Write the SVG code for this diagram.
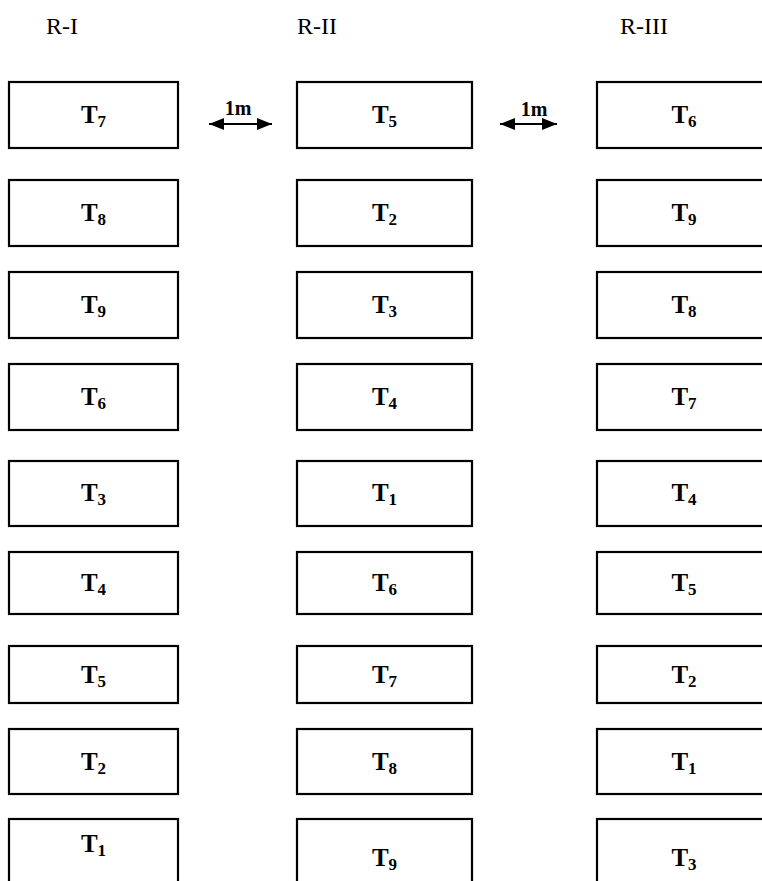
<svg xmlns="http://www.w3.org/2000/svg" width="762" height="881" viewBox="0 0 762 881">
<style>
  .box { fill: #fff; stroke: #000; stroke-width: 2.2; }
  .lbl { font-family: "Liberation Serif", "Times New Roman", serif; font-weight: bold; font-size: 25px; fill: #000; text-anchor: middle; }
  .sub { font-size: 17px; }
  .hdr { font-family: "Liberation Serif", "Times New Roman", serif; font-size: 24px; fill: #000; }
  .dist { font-family: "Liberation Serif", "Times New Roman", serif; font-weight: bold; font-size: 20px; fill: #000; text-anchor: middle; }
  .conn { stroke: #000; stroke-width: 2.2; fill: none; }
</style>
<defs>
  <marker id="ah" markerUnits="userSpaceOnUse" markerWidth="16" markerHeight="14" refX="15" refY="6" orient="auto-start-reverse">
    <path d="M0,0 L15,6 L0,12 z" fill="#000"/>
  </marker>
</defs>
<rect width="762" height="881" fill="#fff"/>

<g id="headers">
  <text class="hdr" x="46" y="34">R-I</text>
  <text class="hdr" x="297" y="34">R-II</text>
  <text class="hdr" x="620" y="34">R-III</text>
</g>

<!-- Column R-I -->
<g id="r1-1"><rect class="box" x="9" y="82" width="169" height="66"/><text class="lbl" x="93.5" y="123">T<tspan class="sub" dy="4">7</tspan></text></g>
<g id="r1-2"><rect class="box" x="9" y="180" width="169" height="66"/><text class="lbl" x="93.5" y="221">T<tspan class="sub" dy="4">8</tspan></text></g>
<g id="r1-3"><rect class="box" x="9" y="272" width="169" height="66"/><text class="lbl" x="93.5" y="313">T<tspan class="sub" dy="4">9</tspan></text></g>
<g id="r1-4"><rect class="box" x="9" y="364" width="169" height="66"/><text class="lbl" x="93.5" y="405">T<tspan class="sub" dy="4">6</tspan></text></g>
<g id="r1-5"><rect class="box" x="9" y="461" width="169" height="65"/><text class="lbl" x="93.5" y="501">T<tspan class="sub" dy="4">3</tspan></text></g>
<g id="r1-6"><rect class="box" x="9" y="552" width="169" height="62"/><text class="lbl" x="93.5" y="591">T<tspan class="sub" dy="4">4</tspan></text></g>
<g id="r1-7"><rect class="box" x="9" y="646" width="169" height="57"/><text class="lbl" x="93.5" y="683">T<tspan class="sub" dy="4">5</tspan></text></g>
<g id="r1-8"><rect class="box" x="9" y="729" width="169" height="65"/><text class="lbl" x="93.5" y="770">T<tspan class="sub" dy="4">2</tspan></text></g>
<g id="r1-9"><rect class="box" x="9" y="819" width="169" height="80"/><text class="lbl" x="93.5" y="852">T<tspan class="sub" dy="4">1</tspan></text></g>

<!-- Column R-II -->
<g id="r2-1"><rect class="box" x="297" y="82" width="175" height="66"/><text class="lbl" x="384.5" y="123">T<tspan class="sub" dy="4">5</tspan></text></g>
<g id="r2-2"><rect class="box" x="297" y="180" width="175" height="66"/><text class="lbl" x="384.5" y="221">T<tspan class="sub" dy="4">2</tspan></text></g>
<g id="r2-3"><rect class="box" x="297" y="272" width="175" height="66"/><text class="lbl" x="384.5" y="313">T<tspan class="sub" dy="4">3</tspan></text></g>
<g id="r2-4"><rect class="box" x="297" y="364" width="175" height="66"/><text class="lbl" x="384.5" y="405">T<tspan class="sub" dy="4">4</tspan></text></g>
<g id="r2-5"><rect class="box" x="297" y="461" width="175" height="65"/><text class="lbl" x="384.5" y="501">T<tspan class="sub" dy="4">1</tspan></text></g>
<g id="r2-6"><rect class="box" x="297" y="552" width="175" height="62"/><text class="lbl" x="384.5" y="591">T<tspan class="sub" dy="4">6</tspan></text></g>
<g id="r2-7"><rect class="box" x="297" y="646" width="175" height="57"/><text class="lbl" x="384.5" y="683">T<tspan class="sub" dy="4">7</tspan></text></g>
<g id="r2-8"><rect class="box" x="297" y="729" width="175" height="65"/><text class="lbl" x="384.5" y="770">T<tspan class="sub" dy="4">8</tspan></text></g>
<g id="r2-9"><rect class="box" x="297" y="819" width="175" height="80"/><text class="lbl" x="384.5" y="866">T<tspan class="sub" dy="4">9</tspan></text></g>

<!-- Column R-III -->
<g id="r3-1"><rect class="box" x="597" y="82" width="175" height="66"/><text class="lbl" x="684" y="123">T<tspan class="sub" dy="4">6</tspan></text></g>
<g id="r3-2"><rect class="box" x="597" y="180" width="175" height="66"/><text class="lbl" x="684" y="221">T<tspan class="sub" dy="4">9</tspan></text></g>
<g id="r3-3"><rect class="box" x="597" y="272" width="175" height="66"/><text class="lbl" x="684" y="313">T<tspan class="sub" dy="4">8</tspan></text></g>
<g id="r3-4"><rect class="box" x="597" y="364" width="175" height="66"/><text class="lbl" x="684" y="405">T<tspan class="sub" dy="4">7</tspan></text></g>
<g id="r3-5"><rect class="box" x="597" y="461" width="175" height="65"/><text class="lbl" x="684" y="501">T<tspan class="sub" dy="4">4</tspan></text></g>
<g id="r3-6"><rect class="box" x="597" y="552" width="175" height="62"/><text class="lbl" x="684" y="591">T<tspan class="sub" dy="4">5</tspan></text></g>
<g id="r3-7"><rect class="box" x="597" y="646" width="175" height="57"/><text class="lbl" x="684" y="683">T<tspan class="sub" dy="4">2</tspan></text></g>
<g id="r3-8"><rect class="box" x="597" y="729" width="175" height="65"/><text class="lbl" x="684" y="770">T<tspan class="sub" dy="4">1</tspan></text></g>
<g id="r3-9"><rect class="box" x="597" y="819" width="175" height="80"/><text class="lbl" x="684" y="866">T<tspan class="sub" dy="4">3</tspan></text></g>

<g id="connectors">
  <line class="conn" x1="209" y1="124" x2="272" y2="124" marker-start="url(#ah)" marker-end="url(#ah)"/>
  <text class="dist" x="238" y="115">1m</text>
  <line class="conn" x1="500" y1="124" x2="557" y2="124" marker-start="url(#ah)" marker-end="url(#ah)"/>
  <text class="dist" x="534" y="116">1m</text>
</g>
</svg>
